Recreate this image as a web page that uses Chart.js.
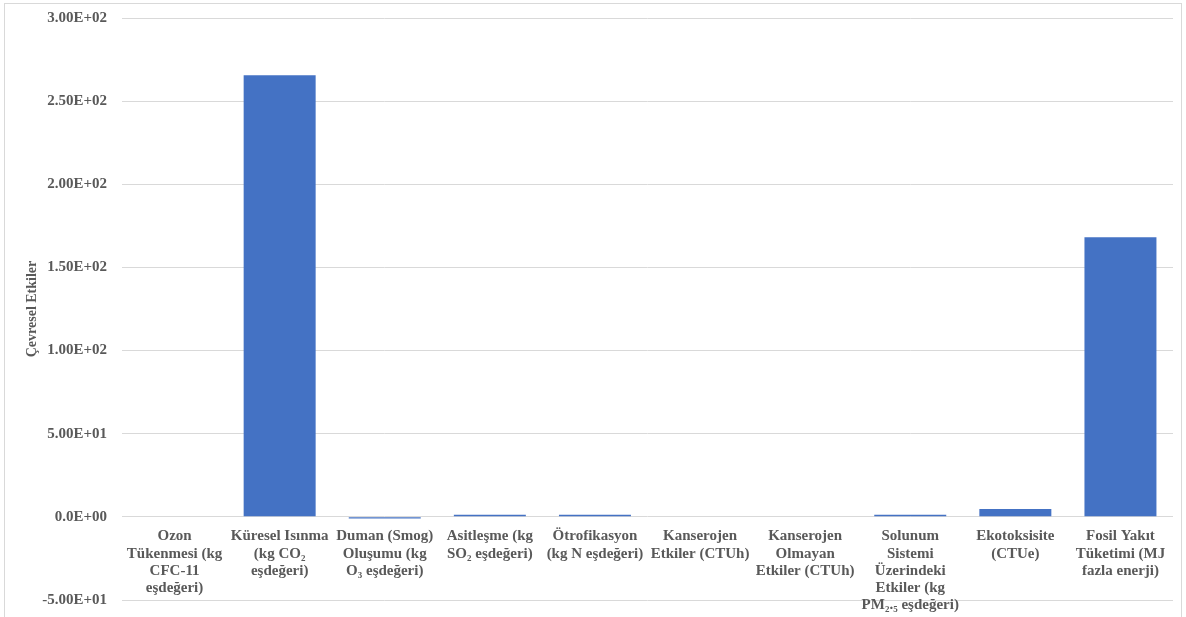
<!DOCTYPE html>
<html>
<head>
<meta charset="utf-8">
<script src="https://cdn.jsdelivr.net/npm/chart.js@4.4.1/dist/chart.umd.min.js"></script>
<style>
  html, body { margin: 0; padding: 0; background: #fff; }
  #wrap { position: relative; width: 1186px; height: 617px; overflow: hidden; }
  #frame { position: absolute; left: 4px; top: 3px; width: 1178px; height: 630px; border: 1px solid #d9d9d9; box-sizing: border-box; pointer-events: none; }
</style>
</head>
<body>
<div id="wrap">
  <canvas id="myChart" width="1186" height="617"></canvas>
  <div id="frame"></div>
</div>
<script>
// kategoriler (çok satırlı etiketler)
var categories = [
  ['Ozon', 'Tükenmesi (kg', 'CFC-11', 'eşdeğeri)'],
  ['Küresel Isınma', '(kg CO₂', 'eşdeğeri)'],
  ['Duman (Smog)', 'Oluşumu (kg', 'O₃ eşdeğeri)'],
  ['Asitleşme (kg', 'SO₂ eşdeğeri)'],
  ['Ötrofikasyon', '(kg N eşdeğeri)'],
  ['Kanserojen', 'Etkiler (CTUh)'],
  ['Kanserojen', 'Olmayan', 'Etkiler (CTUh)'],
  ['Solunum', 'Sistemi', 'Üzerindeki', 'Etkiler (kg', 'PM₂.₅ eşdeğeri)'],
  ['Ekotoksisite', '(CTUe)'],
  ['Fosil Yakıt', 'Tüketimi (MJ', 'fazla enerji)']
];

// değerler
var impactValues = [0.0, 265.6, -1.0, 1.2, 1.2, 0.0, 0.0, 1.2, 4.8, 168.2];

// y ekseni etiketleri
var tickValues = [-50, 0, 50, 100, 150, 200, 250, 300];
var tickLabels = ['-5.00E+01', '0.0E+00', '5.00E+01', '1.00E+02', '1.50E+02', '2.00E+02', '2.50E+02', '3.00E+02'];

var yTitle = 'Çevresel Etkiler';

var fontFamily = '"Liberation Serif", "Times New Roman", serif';
var textColor = '#595959';

var data = {
  labels: categories,
  datasets: [{
    data: impactValues,
    backgroundColor: '#4472C4',
    borderWidth: 0,
    categoryPercentage: 1.0,
    barPercentage: 0.685
  }]
};

var config = {
  type: 'bar',
  data: data,
  options: {
    responsive: false,
    animation: false,
    layout: { padding: { left: 0, top: 18, right: 13, bottom: 17 } },
    plugins: {
      legend: { display: false },
      tooltip: { enabled: false }
    },
    scales: {
      x: {
        position: { y: 0 },
        grid: { display: false },
        border: { display: false },
        ticks: {
          color: textColor,
          font: { family: fontFamily, size: 15, weight: 'bold', lineHeight: 1.15 },
          padding: 3,
          maxRotation: 0,
          minRotation: 0,
          autoSkip: false
        }
      },
      y: {
        min: -50,
        max: 300,
        afterBuildTicks: function (scale) {
          scale.ticks = tickValues.map(function (v) { return { value: v }; });
        },
        afterFit: function (scale) { scale.width = 122; },
        // tick çizgisi görünmez, sadece etiketleri içeri iter
        grid: { color: '#d9d9d9', lineWidth: 1, drawTicks: true, tickLength: 12, tickColor: 'rgba(0,0,0,0)' },
        border: { display: false },
        ticks: {
          color: textColor,
          font: { family: fontFamily, size: 15, weight: 'bold' },
          padding: 3,
          callback: function (value) {
            var i = tickValues.indexOf(value);
            return i >= 0 ? tickLabels[i] : '';
          }
        },
        title: {
          display: true,
          text: yTitle,
          color: textColor,
          font: { family: fontFamily, size: 14, weight: 'bold' },
          padding: { top: 24, bottom: 0 }
        }
      }
    }
  }
};

var myChart = new Chart(document.getElementById('myChart'), config);
</script>
</body>
</html>
